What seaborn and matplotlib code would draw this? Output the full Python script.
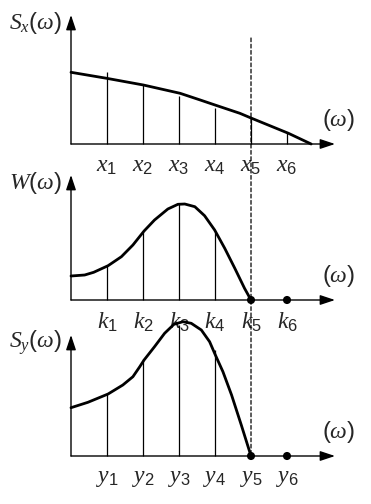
import numpy as np
import pandas as pd
import seaborn as sns
import matplotlib.pyplot as plt
from matplotlib.patches import ConnectionPatch

# lecturas de las curvas (x en unidades de marca, altura en unidades de la figura)
sx_x = [0, 0.99, 2.01, 3.03, 3.59, 4.0, 4.69, 5.02, 6.04, 6.67]
sx_h = [71.7, 65.7, 59, 50.7, 44, 39, 30.7, 25.7, 10.7, 0]
sx_stem_x = [1, 2, 3, 4, 5, 6]
sx_stem_h = [72, 60, 48, 36, 26, 11]

w_x = [0, 0.38, 0.63, 1.03, 1.4, 1.72, 2.03, 2.32, 2.69, 2.97, 3.16, 3.44,
       3.71, 3.99, 4.27, 4.55, 4.82, 5.0]
w_h = [24, 25, 27.7, 34.3, 43.3, 55, 69, 80, 91, 95.7, 96, 93.3,
       84.3, 70, 51.7, 31.7, 11.7, 0]
w_stem_x = [1, 2, 3, 4]
w_stem_h = [34, 68, 96, 68]

sy_x = [0, 0.47, 1.03, 1.44, 1.72, 1.91, 2.03, 2.32, 2.6, 2.86, 3.11, 3.34,
        3.62, 3.85, 4.01, 4.22, 4.46, 4.73, 5.0]
sy_h = [48.3, 53.7, 62, 71, 79.3, 89.3, 96, 109.3, 122.7, 131.7, 134.3, 132.7,
        126, 114.3, 101, 84.3, 61, 31, 0]
sy_stem_x = [1, 2, 3, 4]
sy_stem_h = [62, 97, 131, 106]

dot_x = [5, 6]
dot_h = [0, 0]

x_labels = [r'$x_{%d}$' % i for i in range(1, 7)]
k_labels = [r'$k_{%d}$' % i for i in range(1, 7)]
y_labels = [r'$y_{%d}$' % i for i in range(1, 7)]
ylabels = [r'$S_x(\omega)$', r'$W(\omega)$', r'$S_y(\omega)$']
xlabel = r'$(\omega)$'

sns.set_style('white')
plt.rcParams['font.family'] = ['Liberation Sans', 'DejaVu Sans']
plt.rcParams['mathtext.fontset'] = 'custom'
plt.rcParams['mathtext.it'] = 'Liberation Serif:italic'
plt.rcParams['mathtext.rm'] = 'Liberation Sans'

fig = plt.figure(figsize=(3.71, 5.04), dpi=100)
W, H = 371, 504
xmax = 7.333

# posiciones de los paneles: (abajo px, alto px)
panels = [(144, 129), (300, 125), (456, 121)]
axes = []
for bottom, height in panels:
    ax = fig.add_axes([71 / W, (H - bottom) / H, 264 / W, height / H])
    ax.set_xlim(0, xmax)
    ax.set_ylim(0, height)
    for s in ax.spines.values():
        s.set_visible(False)
    ax.patch.set_alpha(0)
    axes.append(ax)

data = [
    (sx_x, sx_h, sx_stem_x, sx_stem_h, x_labels, False),
    (w_x, w_h, w_stem_x, w_stem_h, k_labels, True),
    (sy_x, sy_h, sy_stem_x, sy_stem_h, y_labels, True),
]

for ax, (cx, ch, stx, sth, tl, dots), lab in zip(axes, data, ylabels):
    top = ax.get_ylim()[1]
    df = pd.DataFrame({'x': cx, 'h': ch})
    sns.lineplot(data=df, x='x', y='h', ax=ax, color='black', lw=2.0,
                 sort=False, estimator=None, zorder=3, clip_on=False)
    ax.vlines(stx, 0, sth, color='black', lw=0.9, clip_on=False)
    if dots:
        sns.scatterplot(x=dot_x, y=dot_h, ax=ax, color='black', s=34,
                        edgecolor='none', zorder=5, clip_on=False)
    arrow = dict(arrowstyle='-|>,head_length=0.9,head_width=0.3',
                 mutation_scale=10, lw=1.0, color='black',
                 shrinkA=0, shrinkB=0)
    ax.annotate('', xy=(xmax, 0), xytext=(0, 0), arrowprops=arrow,
                annotation_clip=False)
    ax.annotate('', xy=(0, top), xytext=(0, 0), arrowprops=arrow,
                annotation_clip=False)
    ax.set_xticks(range(1, 7), tl)
    ax.tick_params(axis='x', length=0, pad=8, labelsize=17)
    ax.set_yticks([])
    ax.set_xlabel('')
    ax.set_ylabel('')
    ax.text(-0.25, top - 8, lab, ha='right', va='center', fontsize=17)
    ax.text(7.42, 24, xlabel, ha='center', va='center', fontsize=17)

# línea discontinua vertical en x5 a través de los tres paneles
con = ConnectionPatch(xyA=(5, 106), coordsA=axes[0].transData,
                      xyB=(5, 0), coordsB=axes[2].transData,
                      color='black', lw=0.9, linestyle=(0, (3, 2)), zorder=6)
fig.add_artist(con)

fig.savefig('out.png', dpi=100)
